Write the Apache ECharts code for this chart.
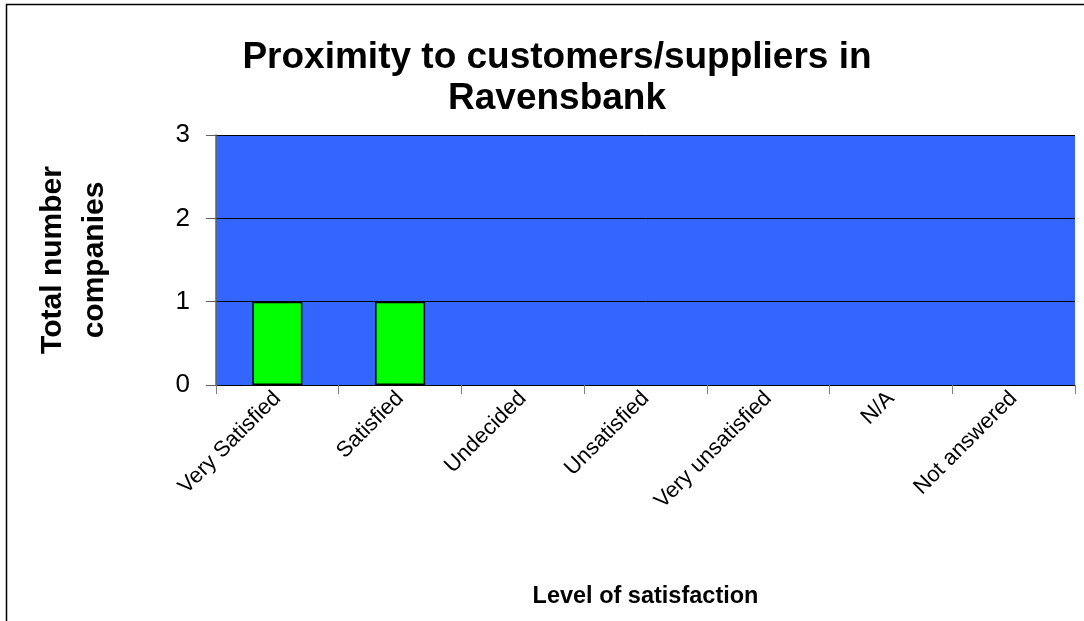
<!DOCTYPE html>
<html>
<head>
<meta charset="utf-8">
<script src="https://cdn.jsdelivr.net/npm/echarts@6/dist/echarts.min.js"></script>
<style>html,body{margin:0;padding:0;background:#fff;}#c{width:1084px;height:621px;}</style>
</head>
<body>
<div id="c"></div>
<script>
const categories = ['Very Satisfied','Satisfied','Undecided','Unsatisfied','Very unsatisfied','N/A','Not answered'];
const values = [1,1,0,0,0,0,0];
const yTicks = [0,1,2,3];
const titleText = 'Proximity to customers/suppliers in\nRavensbank';
const xName = 'Level of satisfaction';
const yName = 'Total number\ncompanies';

const chart = echarts.init(document.getElementById('c'), null, {renderer:'canvas'});
const font = '"Liberation Sans", Arial, sans-serif';
chart.setOption({
  animation:false,
  backgroundColor:'#fff',
  textStyle:{fontFamily:font},
  title:{
    text:titleText, left:552, top:32, textAlign:'center',
    textStyle:{fontFamily:font, fontSize:37, fontWeight:'bold', color:'#000', lineHeight:41}
  },
  graphic:[{type:'rect', shape:{x:6.5,y:4.5,width:1200,height:800}, style:{fill:'none', stroke:'#000', lineWidth:1.5}, silent:true, z:-1}],
  grid:{left:216, right:9, top:135, bottom:236, show:true, backgroundColor:'#3366FF', borderWidth:0},
  xAxis:{
    type:'category', data:categories,
    axisLine:{show:true, lineStyle:{color:'#000', width:1}},
    axisTick:{show:true, length:9, inside:false, lineStyle:{color:'#808080'}, alignWithLabel:false},
    axisLabel:{rotate:45, fontSize:22, color:'#000', margin:10, fontFamily:font, interval:0},
    name:xName, nameLocation:'middle', nameGap:200,
    nameTextStyle:{fontSize:23.5, fontWeight:'bold', color:'#000', fontFamily:font}
  },
  yAxis:{
    type:'value', min:0, max:3, interval:1,
    axisLine:{show:true, lineStyle:{color:'#606060', width:1.5}},
    axisTick:{show:true, length:10, lineStyle:{color:'#606060'}},
    axisLabel:{fontSize:26, color:'#000', margin:26, fontFamily:font, formatter:v=>yTicks.includes(v)?String(v):''},
    splitLine:{show:true, lineStyle:{color:'#000', width:1}},
    name:yName, nameLocation:'middle', nameGap:100, nameRotate:90,
    nameTextStyle:{fontSize:30, fontWeight:'bold', color:'#000', fontFamily:font, lineHeight:42, align:'center'}
  },
  series:[{
    type:'bar', data:values.map(v => v === 0 ? null : v), barWidth:50,
    itemStyle:{color:'#00FF00', borderColor:'#000', borderWidth:1.5}
  }]
});
</script>
</body>
</html>
